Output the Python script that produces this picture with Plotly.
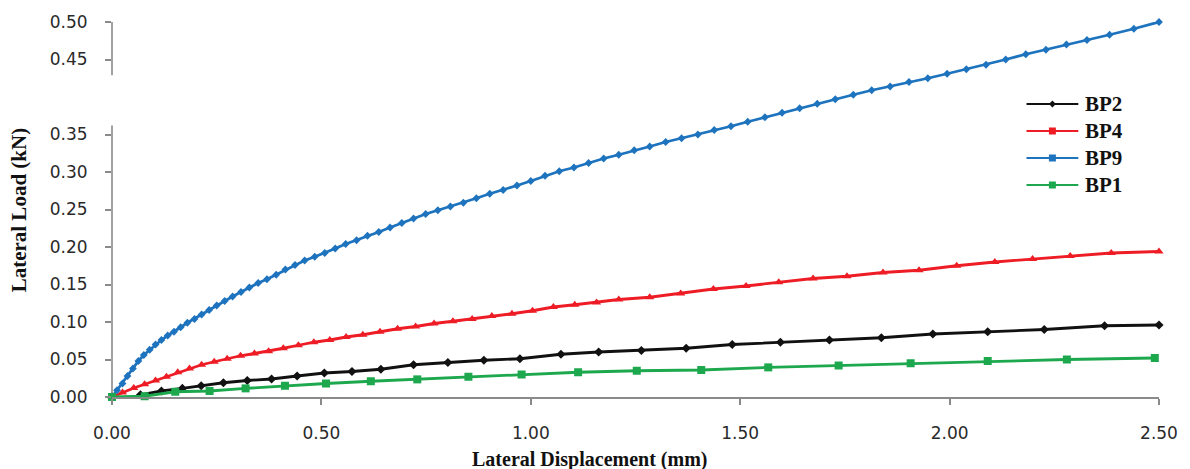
import plotly.graph_objects as go

# Lateral displacement (mm) / lateral load (kN) readings for each specimen
bp2_disp = [0.000, 0.037, 0.068, 0.118, 0.168, 0.213, 0.266, 0.323, 0.381, 0.442,
            0.507, 0.573, 0.642, 0.720, 0.802, 0.888, 0.974, 1.072, 1.162, 1.264,
            1.371, 1.481, 1.596, 1.713, 1.837, 1.960, 2.091, 2.226, 2.370, 2.500]
bp2_load = [0.000, -0.004, 0.003, 0.008, 0.0115, 0.015, 0.019, 0.022, 0.024, 0.028,
            0.032, 0.034, 0.037, 0.043, 0.046, 0.049, 0.051, 0.057, 0.060, 0.062,
            0.065, 0.070, 0.073, 0.076, 0.079, 0.084, 0.087, 0.090, 0.095, 0.096]

bp4_disp = [0.000, 0.025, 0.052, 0.078, 0.104, 0.130, 0.157, 0.185, 0.214, 0.244,
            0.275, 0.307, 0.340, 0.374, 0.409, 0.445, 0.482, 0.520, 0.559, 0.599,
            0.640, 0.682, 0.725, 0.769, 0.814, 0.860, 0.907, 0.955, 1.004, 1.054,
            1.105, 1.157, 1.210, 1.284, 1.358, 1.436, 1.514, 1.592, 1.674, 1.755,
            1.841, 1.927, 2.017, 2.108, 2.198, 2.288, 2.386, 2.500]
bp4_load = [0.000, 0.006, 0.012, 0.017, 0.022, 0.027, 0.033, 0.038, 0.043, 0.047,
            0.051, 0.055, 0.058, 0.061, 0.065, 0.069, 0.073, 0.076, 0.080, 0.083,
            0.087, 0.091, 0.094, 0.098, 0.101, 0.104, 0.108, 0.111, 0.115, 0.120,
            0.123, 0.126, 0.130, 0.133, 0.138, 0.144, 0.148, 0.153, 0.158, 0.161,
            0.166, 0.169, 0.175, 0.180, 0.184, 0.188, 0.192, 0.194]

bp9_disp = [0.000, 0.012, 0.025, 0.037, 0.050, 0.063, 0.076, 0.090, 0.104, 0.118,
            0.133, 0.148, 0.164, 0.180, 0.197, 0.214, 0.232, 0.250, 0.269, 0.288,
            0.308, 0.328, 0.349, 0.370, 0.392, 0.414, 0.437, 0.460, 0.484, 0.508,
            0.533, 0.558, 0.584, 0.610, 0.637, 0.664, 0.692, 0.720, 0.749, 0.778,
            0.808, 0.839, 0.870, 0.902, 0.934, 0.967, 1.000, 1.034, 1.068, 1.103,
            1.138, 1.174, 1.210, 1.247, 1.284, 1.322, 1.360, 1.399, 1.438, 1.478,
            1.518, 1.559, 1.600, 1.642, 1.684, 1.727, 1.770, 1.814, 1.858, 1.903,
            1.948, 1.994, 2.040, 2.087, 2.134, 2.182, 2.230, 2.279, 2.328, 2.382,
            2.440, 2.500]
bp9_load = [0.000, 0.009, 0.018, 0.028, 0.038, 0.048, 0.056, 0.063, 0.070, 0.076,
            0.082, 0.087, 0.093, 0.099, 0.104, 0.110, 0.116, 0.122, 0.128, 0.134,
            0.140, 0.146, 0.152, 0.157, 0.163, 0.170, 0.176, 0.182, 0.187, 0.192,
            0.198, 0.204, 0.209, 0.215, 0.220, 0.226, 0.232, 0.238, 0.244, 0.249,
            0.254, 0.259, 0.265, 0.271, 0.276, 0.282, 0.288, 0.295, 0.301, 0.306,
            0.312, 0.318, 0.323, 0.329, 0.334, 0.340, 0.345, 0.350, 0.356, 0.361,
            0.367, 0.373, 0.379, 0.385, 0.391, 0.397, 0.403, 0.409, 0.414, 0.420,
            0.425, 0.431, 0.437, 0.443, 0.450, 0.457, 0.463, 0.470, 0.476, 0.483,
            0.491, 0.500]

bp1_disp = [0.000, 0.078, 0.151, 0.233, 0.319, 0.413, 0.511, 0.618, 0.729, 0.851,
            0.978, 1.113, 1.253, 1.407, 1.567, 1.735, 1.907, 2.091, 2.280, 2.490]
bp1_load = [0.000, 0.001, 0.007, 0.008, 0.0115, 0.015, 0.018, 0.021, 0.0235, 0.027,
            0.030, 0.033, 0.035, 0.036, 0.0395, 0.042, 0.045, 0.048, 0.050, 0.052]

x_ticks = [0.0, 0.5, 1.0, 1.5, 2.0, 2.5]
y_ticks = [0.0, 0.05, 0.10, 0.15, 0.20, 0.25, 0.30, 0.35, 0.45, 0.50]

# name, x, y, colour, plot symbol, plot size, key symbol
series = [
    ("BP2", bp2_disp, bp2_load, "#111111", "diamond", 7, "diamond"),
    ("BP4", bp4_disp, bp4_load, "#ee1c25", "triangle-up", 8, "square"),
    ("BP9", bp9_disp, bp9_load, "#1e73be", "diamond", 6, "square"),
    ("BP1", bp1_disp, bp1_load, "#1da84e", "square", 8, "square"),
]

AXIS_GREY = "#8a8a8a"
TICK_FONT = dict(family="DejaVu Sans", size=17, color="#2a2a2a")
SERIF = "Liberation Serif"

# Figure geometry (pixels)
W, H = 1190, 469
ML, MR, MT, MB = 112, 27, 22, 72
PW, PH = W - ML - MR, H - MT - MB


def px_x(px):
    return (px - ML) / PW


def px_y(py):
    return (H - MB - py) / PH


fig = go.Figure()
for name, xs, ys, color, symbol, size, _ in series:
    fig.add_trace(go.Scatter(
        x=xs, y=ys, name=name, mode="lines+markers",
        line=dict(color=color, width=2.8),
        marker=dict(color=color, symbol=symbol, size=size),
        cliponaxis=False, showlegend=False,
    ))

# Broken value axis: the vertical line is drawn in two pieces around 0.40
for y0, y1 in [(0.0, 0.362), (0.429, 0.50)]:
    fig.add_shape(type="line", xref="paper", yref="y", x0=0, x1=0, y0=y0, y1=y1,
                  line=dict(color=AXIS_GREY, width=1.6), layer="below")

# Key: short line with a centred marker, followed by the series name
key_top, key_step = 104, 27
for i, (name, _, _, color, _, _, key_symbol) in enumerate(series):
    ky = key_top + i * key_step
    fig.add_shape(type="line", xref="paper", yref="paper",
                  x0=px_x(1030), x1=px_x(1082), y0=px_y(ky), y1=px_y(ky),
                  line=dict(color=color, width=2.2))
    cx, r = 1056, 3.5
    if key_symbol == "diamond":
        path = (f"M {px_x(cx - r)},{px_y(ky)} L {px_x(cx)},{px_y(ky - r)} "
                f"L {px_x(cx + r)},{px_y(ky)} L {px_x(cx)},{px_y(ky + r)} Z")
    else:
        path = (f"M {px_x(cx - r)},{px_y(ky - r)} L {px_x(cx + r)},{px_y(ky - r)} "
                f"L {px_x(cx + r)},{px_y(ky + r)} L {px_x(cx - r)},{px_y(ky + r)} Z")
    fig.add_shape(type="path", xref="paper", yref="paper", path=path,
                  fillcolor=color, line=dict(color=color, width=0))
    fig.add_annotation(text=f"<b>{name}</b>", xref="paper", yref="paper",
                       x=px_x(1087), y=px_y(ky), xanchor="left", yanchor="middle",
                       showarrow=False,
                       font=dict(family=SERIF, size=21, color="#111111"))

fig.add_annotation(text="<b>Lateral Displacement (mm)</b>", xref="paper", yref="paper",
                   x=px_x(592), y=px_y(459), xanchor="center", yanchor="middle",
                   showarrow=False, font=dict(family=SERIF, size=20, color="#111111"))
fig.add_annotation(text="<b>Lateral Load (kN)</b>", xref="paper", yref="paper",
                   x=px_x(19), y=px_y(210), xanchor="center", yanchor="middle",
                   textangle=-90, showarrow=False,
                   font=dict(family=SERIF, size=21, color="#111111"))

fig.update_layout(
    width=W, height=H,
    margin=dict(l=ML, r=MR, t=MT, b=MB),
    plot_bgcolor="white", paper_bgcolor="white",
    showlegend=False,
    xaxis=dict(range=[0, 2.5], tickvals=x_ticks, tickformat=".2f",
               showline=True, linecolor=AXIS_GREY, linewidth=1.6,
               ticks="outside", ticklen=6, tickcolor=AXIS_GREY, tickwidth=1.5,
               ticklabelstandoff=14,
               showgrid=False, zeroline=False, tickfont=TICK_FONT),
    yaxis=dict(range=[0, 0.5], tickvals=y_ticks, tickformat=".2f",
               showline=False, ticks="outside", ticklen=6, tickcolor=AXIS_GREY,
               tickwidth=1.5, ticklabelstandoff=14,
               showgrid=False, zeroline=False, tickfont=TICK_FONT),
)

fig.write_html("out.html")
